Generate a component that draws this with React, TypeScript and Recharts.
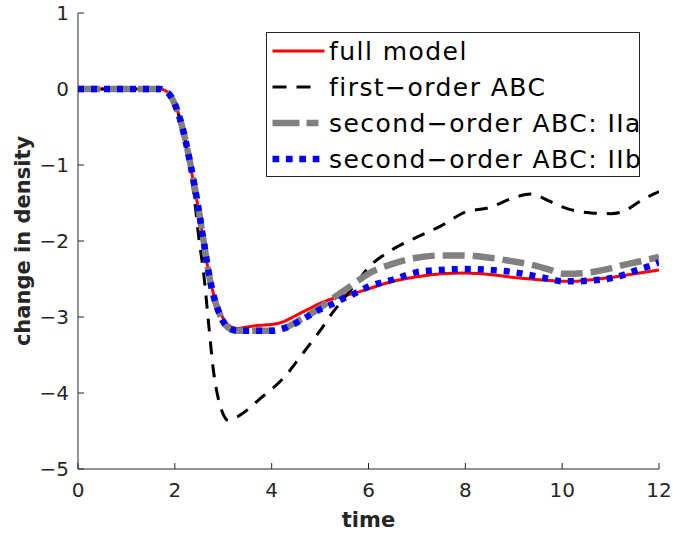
import { LineChart, Line, XAxis, YAxis, Legend, Label } from 'recharts';

document.body.style.margin = '0';

// time grid shared by all four curves
const times = [
  0, 1, 1.7, 1.8, 1.9, 2.0, 2.1, 2.2, 2.3, 2.4, 2.5, 2.6, 2.7, 2.8, 2.9, 3.0, 3.1, 3.2, 3.3,
  3.5, 3.75, 4.0, 4.25, 4.5, 4.75, 5.0, 5.25, 5.5, 5.75, 6.0,
  6.5, 7.0, 7.5, 8.0, 8.5, 9.0,
  9.35, 9.75, 10.0, 10.25, 10.6,
  11.0, 11.3, 11.6, 11.8, 12.0,
];

const fullModel = [
  0, 0, 0, -0.02, -0.07, -0.19, -0.38, -0.63, -0.94, -1.27, -1.63, -2.03, -2.42, -2.7, -2.88, -3.02, -3.1, -3.14, -3.15,
  -3.13, -3.11, -3.1, -3.06, -2.98, -2.9, -2.82, -2.76, -2.72, -2.68, -2.63,
  -2.53, -2.47, -2.43, -2.42, -2.44, -2.48,
  -2.5, -2.52, -2.53, -2.53, -2.51,
  -2.48, -2.45, -2.42, -2.4, -2.38,
];

const firstOrder = [
  0, 0, 0, -0.02, -0.07, -0.19, -0.38, -0.64, -0.98, -1.42, -1.98, -2.45, -3.1, -3.72, -4.08, -4.28, -4.36, -4.34, -4.31,
  -4.22, -4.08, -3.95, -3.8, -3.6, -3.39, -3.18, -2.95, -2.75, -2.55, -2.35,
  -2.11, -1.95, -1.8, -1.62, -1.56, -1.43,
  -1.38, -1.48, -1.55, -1.6, -1.63,
  -1.64, -1.6, -1.48, -1.41, -1.35,
];

const secondOrderIIa = [
  0, 0, 0, -0.03, -0.08, -0.2, -0.38, -0.62, -0.92, -1.25, -1.62, -2.02, -2.42, -2.72, -2.92, -3.06, -3.14, -3.17, -3.18,
  -3.18, -3.18, -3.18, -3.15, -3.07, -2.98, -2.88, -2.76, -2.65, -2.54, -2.43,
  -2.3, -2.22, -2.19, -2.19, -2.22, -2.27,
  -2.31, -2.38, -2.43, -2.43, -2.41,
  -2.36, -2.31, -2.27, -2.24, -2.21,
];

const secondOrderIIb = [
  0, 0, 0, -0.03, -0.08, -0.2, -0.38, -0.62, -0.92, -1.25, -1.62, -2.02, -2.42, -2.72, -2.92, -3.06, -3.14, -3.17, -3.18,
  -3.18, -3.18, -3.18, -3.15, -3.08, -2.99, -2.9, -2.83, -2.75, -2.68, -2.6,
  -2.51, -2.41, -2.38, -2.37, -2.38, -2.41,
  -2.45, -2.5, -2.53, -2.53, -2.52,
  -2.49, -2.44, -2.37, -2.33, -2.28,
];

const xTicks = [0, 2, 4, 6, 8, 10, 12];
const yTicks = [-5, -4, -3, -2, -1, 0, 1];

const seriesNames = [
  'full model',
  'first\u2212order ABC',
  'second\u2212order ABC: IIa',
  'second\u2212order ABC: IIb',
];

const rows = times.map((t, i) => ({
  t,
  full: fullModel[i],
  first: firstOrder[i],
  iia: secondOrderIIa[i],
  iib: secondOrderIIb[i],
}));

const FONT = '"DejaVu Sans", sans-serif';
const AXIS = '#262626';

// legend sample styles, in the same order as seriesNames
const samples = [
  { color: '#ff0000', width: 3, dash: undefined, len: 52 },
  { color: '#000000', width: 3, dash: '14 10', len: 38 },
  { color: '#808080', width: 6.5, dash: '27 7', len: 46 },
  { color: '#0000ff', width: 6.5, dash: '6.7 6.7', len: 47 },
];

const renderLegend = () => (
  <div
    style={{
      width: 372,
      height: 143,
      border: `1px solid ${AXIS}`,
      background: '#fff',
      fontFamily: FONT,
    }}
  >
    {seriesNames.map((name, i) => (
      <div key={name} style={{ height: 36, display: 'flex', alignItems: 'center' }}>
        <svg width={62} height={36} style={{ flex: 'none' }}>
          <line
            x1={5.5}
            x2={5.5 + samples[i].len}
            y1={18}
            y2={18}
            stroke={samples[i].color}
            strokeWidth={samples[i].width}
            strokeDasharray={samples[i].dash}
          />
        </svg>
        <span style={{ fontSize: 25, letterSpacing: 1.45, color: '#000', whiteSpace: 'nowrap' }}>{name}</span>
      </div>
    ))}
  </div>
);

const fmt = (v: number) => String(v).replace('-', '\u2212');

const YLabel = () => (
  <text
    x={30}
    y={241}
    transform="rotate(-90 30 241)"
    textAnchor="middle"
    fontFamily={FONT}
    fontWeight="bold"
    fontSize={21}
    fill={AXIS}
  >
    change in density
  </text>
);

export default function App() {
  return (
    <LineChart width={674} height={540} data={rows} margin={{ top: 13, right: 15, bottom: 0, left: 0 }}>
      <XAxis
        dataKey="t"
        type="number"
        domain={[0, 12]}
        allowDataOverflow
        ticks={xTicks}
        height={71}
        tickSize={-6}
        tickMargin={20}
        stroke={AXIS}
        tick={{ fill: AXIS, fontSize: 20, fontFamily: FONT }}
        tickFormatter={fmt}
      >
        <Label
          value="time"
          position="insideBottom"
          offset={13}
          style={{ fontFamily: FONT, fontWeight: 'bold', fontSize: 21, fill: AXIS }}
        />
      </XAxis>
      <XAxis
        xAxisId="top"
        orientation="top"
        type="number"
        domain={[0, 12]}
        allowDataOverflow
        ticks={xTicks}
        height={0}
        tickSize={-6}
        tick={false}
        stroke={AXIS}
      />
      <YAxis
        type="number"
        domain={[-5, 1]}
        allowDataOverflow
        ticks={yTicks}
        width={78}
        tickSize={-6}
        tickMargin={15}
        stroke={AXIS}
        tick={{ fill: AXIS, fontSize: 20, fontFamily: FONT }}
        tickFormatter={fmt}
        label={<Label content={YLabel} />}
      />
      <YAxis
        yAxisId="right"
        orientation="right"
        type="number"
        domain={[-5, 1]}
        allowDataOverflow
        ticks={yTicks}
        width={0}
        tickSize={-6}
        tick={false}
        stroke={AXIS}
      />
      <Legend
        layout="horizontal"
        verticalAlign="middle"
        align="center"
        content={renderLegend}
        wrapperStyle={{ left: 266, top: 32, width: 374, height: 145 }}
      />
      <Line
        dataKey="full"
        name={seriesNames[0]}
        type="monotone"
        stroke="#ff0000"
        strokeWidth={3}
        dot={false}
        activeDot={false}
        isAnimationActive={false}
      />
      <Line
        dataKey="first"
        name={seriesNames[1]}
        type="monotone"
        stroke="#000000"
        strokeWidth={3}
        strokeDasharray="13 10"
        dot={false}
        activeDot={false}
        isAnimationActive={false}
      />
      <Line
        dataKey="iia"
        name={seriesNames[2]}
        type="monotone"
        stroke="#808080"
        strokeWidth={6.5}
        strokeDasharray="22 8"
        dot={false}
        activeDot={false}
        isAnimationActive={false}
      />
      <Line
        dataKey="iib"
        name={seriesNames[3]}
        type="monotone"
        stroke="#0000ff"
        strokeWidth={6.5}
        strokeDasharray="6 7"
        dot={false}
        activeDot={false}
        isAnimationActive={false}
      />
    </LineChart>
  );
}
